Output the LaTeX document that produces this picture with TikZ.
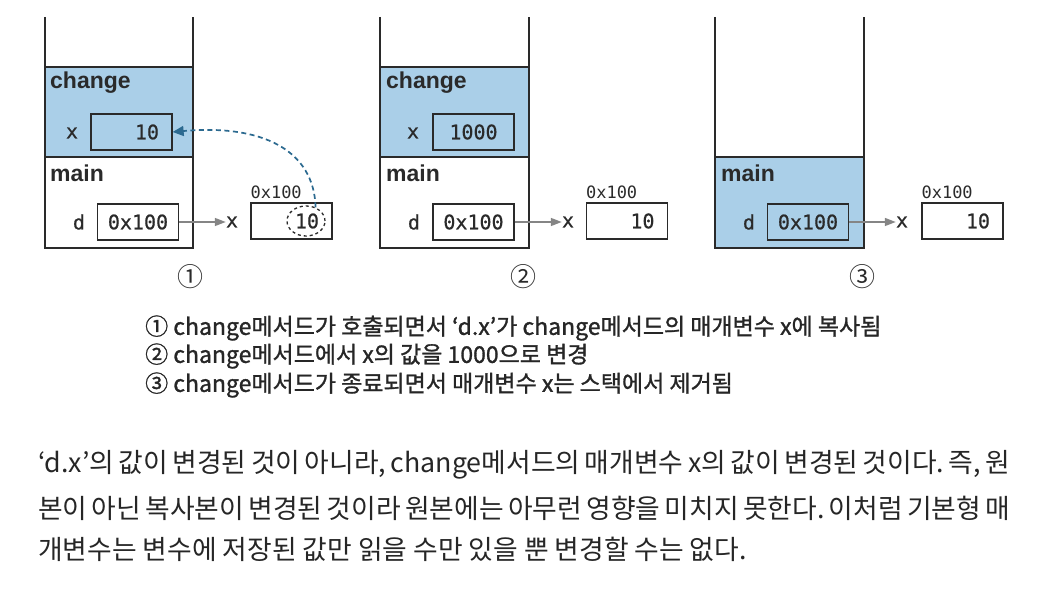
\documentclass[tikz,border=0pt]{standalone}
\usepackage{fontspec}
\setmainfont{Liberation Sans}
\newfontfamily\mono{DejaVu Sans Mono}
\newfontfamily\monob[FakeBold=0.6]{DejaVu Sans Mono}
\newfontfamily\kr{Noto Sans CJK KR}
\newfontfamily\krb[FakeBold=1.2]{Noto Sans CJK KR}
\usetikzlibrary{shapes.geometric,arrows.meta}
\definecolor{bandblue}{HTML}{AACFE8}
\definecolor{edgec}{HTML}{2A2A2A}
\definecolor{dashc}{HTML}{2C6A90}
\definecolor{ptrc}{HTML}{858585}
\tikzset{
  stackline/.style={draw=edgec, line width=1.8pt},
  band/.style={fill=bandblue, draw=edgec, line width=1.6pt},
  cell/.style={draw=edgec, line width=1.3pt, minimum width=81pt, minimum height=36pt, inner sep=0pt, font=\monob\fontsize{20}{20}\selectfont, text=edgec},
  rcell/.style={cell, text width=55pt, inner xsep=13pt, align=right},
  frametitle/.style={anchor=west, font=\fontsize{23}{23}\selectfont\bfseries, text=edgec, inner sep=0pt},
  varname/.style={font=\monob\fontsize{20}{20}\selectfont, text=edgec, inner sep=0pt},
  addr/.style={anchor=south west, font=\mono\fontsize{17}{17}\selectfont, text=edgec, inner sep=0pt, yshift=3pt},
  ptr/.style={draw=ptrc, line width=1.5pt, -{Triangle[length=11pt,width=8pt]}},
  stepnum/.style={font=\kr\fontsize{26}{26}\selectfont, text=edgec, inner sep=0pt},
  note/.style={anchor=west, font=\krb\fontsize{23}{23}\selectfont, text=black!85, inner sep=0pt},
  para/.style={anchor=west, font=\kr\fontsize{26.8}{26.8}\selectfont\frenchspacing, text=black!85, inner sep=0pt},
}
\begin{document}
\begin{tikzpicture}[x=1pt,y=-1pt]
\useasboundingbox (0,0) rectangle (1050,593);
% ---------- stack 1 ----------
\filldraw[band] (45,67) rectangle (193,157);
\draw[stackline] (45,17) -- (45,248) -- (193,248) -- (193,17);
\node[frametitle] (t1c) at (50,83) {change};
\node[frametitle] (t1m) at (50,173) {main};
\node[varname] (v1x) at (72,133) {x};
\node[rcell] (b1x) at (131.5,132) {10};
\node[varname] (v1d) at (79,222) {d};
\node[cell] (b1d) at (138,222) {0x100};
\node[varname] (h1x) at (232,222) {x};
\node[rcell] (h1) at (291.5,221) {10};
\node[addr] (a1) at (h1.north west) {0x100};
\node[ellipse, draw=edgec, dashed, line width=1.3pt, minimum width=38pt, minimum height=30pt, inner sep=0pt] (circ) at (306,221) {};
\draw[ptr] (b1d.east) -- (h1x.west);
\draw[draw=dashc, line width=1.7pt, dash pattern=on 5pt off 3.5pt, -{Triangle[length=11pt,width=10pt]}] (circ.55) .. controls (314,150) and (262,124) .. (b1x.east);
\node[stepnum] (n1) at (190,277) {①};
% ---------- stack 2 ----------
\filldraw[band] (380,67) rectangle (529,157);
\draw[stackline] (380,17) -- (380,248) -- (529,248) -- (529,17);
\node[frametitle] (t2c) at (386,83) {change};
\node[frametitle] (t2m) at (386,173) {main};
\node[varname] (v2x) at (413,133) {x};
\node[cell] (b2x) at (473.5,132) {1000};
\node[varname] (v2d) at (414,222) {d};
\node[cell] (b2d) at (473.5,222) {0x100};
\node[varname] (h2x) at (568,222) {x};
\node[rcell] (h2) at (627,221) {10};
\node[addr] (a2) at (h2.north west) {0x100};
\draw[ptr] (b2d.east) -- (h2x.west);
\node[stepnum] (n2) at (523,277) {②};
% ---------- stack 3 ----------
\filldraw[band] (715,157) rectangle (864,248);
\draw[stackline] (715,17) -- (715,248) -- (864,248) -- (864,17);
\node[frametitle] (t3m) at (721,173) {main};
\node[varname] (v3d) at (749,222) {d};
\node[cell] (b3d) at (808,222) {0x100};
\node[varname] (h3x) at (902,222) {x};
\node[rcell] (h3) at (962.5,221) {10};
\node[addr] (a3) at (h3.north west) {0x100};
\draw[ptr] (b3d.east) -- (h3x.west);
\node[stepnum] (n3) at (862,277) {③};
% ---------- notes ----------
\node[note] (l1) at (145,328) {① change메서드가 호출되면서 ‘d.x’가 change메서드의 매개변수 x에 복사됨};
\node[note] (l2) at (145,356) {② change메서드에서 x의 값을 1000으로 변경};
\node[note] (l3) at (145,385) {③ change메서드가 종료되면서 매개변수 x는 스택에서 제거됨};
% ---------- paragraph ----------
\node[para] (p1) at (38,465) {\makebox[972pt][s]{‘d.x’의 값이 변경된 것이 아니라, change메서드의 매개변수 x의 값이 변경된 것이다. 즉, 원}};
\node[para] (p2) at (38,508) {\makebox[972pt][s]{본이 아닌 복사본이 변경된 것이라 원본에는 아무런 영향을 미치지 못한다. 이처럼 기본형 매}};
\node[para] (p3) at (38,549) {개변수는 변수에 저장된 값만 읽을 수만 있을 뿐 변경할 수는 없다.};
\end{tikzpicture}
\end{document}
